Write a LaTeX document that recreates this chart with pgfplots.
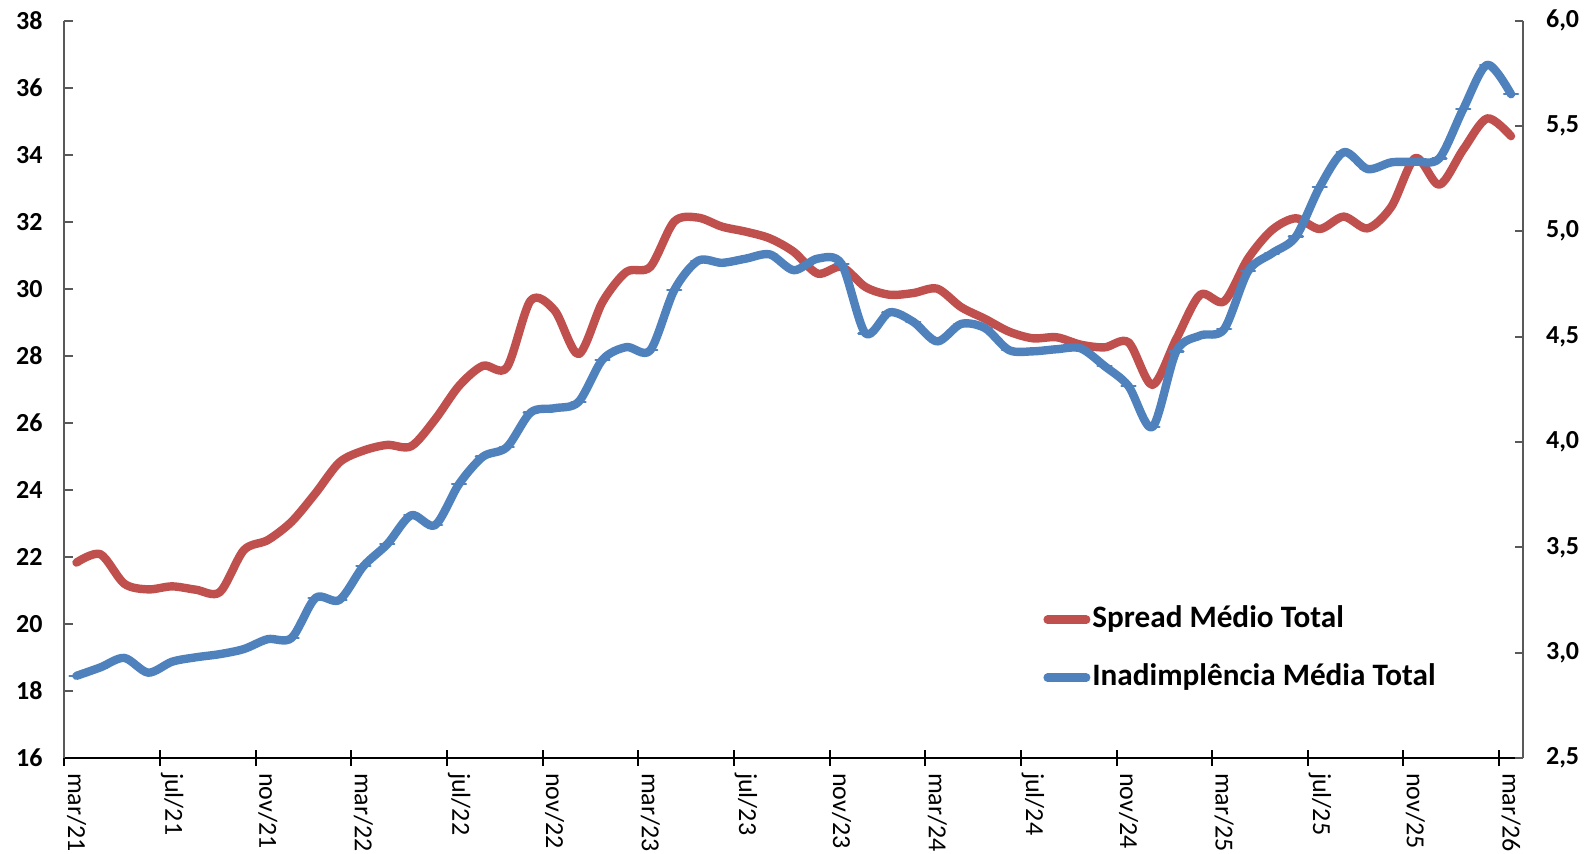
\documentclass[border=0pt]{standalone}
\usepackage{fontspec}
\setmainfont{Carlito}
\usepackage{pgfplots}
\pgfplotsset{compat=1.18}
\usepackage{pgfplotstable}

\definecolor{spreadred}{HTML}{C0504D}
\definecolor{inadblue}{HTML}{4F81BD}

% i = months since mar/21; spread on left axis, inad on right axis
\pgfplotstableread{
i  spread inad
0  21.83  2.890
1  22.08  2.930
2  21.20  2.975
3  21.03  2.905
4  21.12  2.957
5  21.02  2.978
6  20.95  2.993
7  22.20  3.017
8  22.50  3.064
9  23.05  3.070
10 23.90  3.260
11 24.82  3.250
12 25.17  3.410
13 25.34  3.515
14 25.30  3.652
15 26.10  3.605
16 27.10  3.800
17 27.70  3.930
18 27.65  3.975
19 29.65  4.140
20 29.35  4.160
21 28.05  4.190
22 29.60  4.390
23 30.50  4.450
24 30.65  4.435
25 32.00  4.720
26 32.12  4.860
27 31.85  4.850
28 31.70  4.870
29 31.50  4.890
30 31.10  4.815
31 30.45  4.870
32 30.65  4.845
33 30.05  4.515
34 29.82  4.615
35 29.87  4.570
36 30.00  4.477
37 29.45  4.560
38 29.10  4.540
39 28.72  4.436
40 28.52  4.430
41 28.55  4.440
42 28.33  4.444
43 28.25  4.360
44 28.40  4.265
45 27.13  4.070
46 28.50  4.430
47 29.82  4.505
48 29.62  4.535
49 30.90  4.810
50 31.75  4.895
51 32.10  4.974
52 31.78  5.210
53 32.15  5.375
54 31.80  5.295
55 32.45  5.327
56 33.90  5.330
57 33.10  5.346
58 34.15  5.580
59 35.08  5.790
60 34.55  5.650
}\data

\pgfplotsset{
  base/.style={
    width=729.25pt, height=368.75pt, scale only axis,
    xmin=-0.5, xmax=60.5,
    xtick={-0.5,3.5,...,59.5},
    xticklabels={mar/21,jul/21,nov/21,mar/22,jul/22,nov/22,mar/23,jul/23,nov/23,mar/24,jul/24,nov/24,mar/25,jul/25,nov/25,mar/26},
    x tick label style={font=\fontsize{13}{15}\selectfont, xshift=6pt, yshift=-4pt, rotate=-90, anchor=west},
    x tick style={black, line width=1pt},
    x axis line style={black, line width=1pt},
    y axis line style={black!65, line width=1pt},
    y tick style={black!65, line width=1pt},
    tick align=inside,
    major tick length=4pt,
    /pgf/number format/assume math mode=true,
  },
  wide/.style={line width=4.2pt, smooth, line join=round, line cap=round},
}

\begin{document}
\begin{tikzpicture}
\path[use as bounding box] (-32.25pt,-47.5pt) rectangle (759.75pt,379pt);

\begin{axis}[base,
    axis y line*=left, axis x line*=bottom,
    ymin=16, ymax=38, ytick={16,18,...,38},
    y tick label style={font=\bfseries\fontsize{13}{15}\selectfont, xshift=-7.5pt},
    % same positions again, drawn outward, so the x ticks cross the axis
    extra x ticks={-0.5,3.5,...,59.5},
    extra x tick labels={},
    extra x tick style={tick align=outside},
  ]
  \addplot[spreadred, wide] table[x=i, y=spread] {\data};
\end{axis}

\begin{axis}[base,
    axis y line*=right, axis x line=none,
    ymin=2.5, ymax=6, ytick={2.5,3,...,6},
    yticklabels={{2,5},{3,0},{3,5},{4,0},{4,5},{5,0},{5,5},{6,0}},
    y tick label style={font=\bfseries\fontsize{13}{15}\selectfont, xshift=8pt},
    legend style={draw=none, fill=none, at={(0.6709,0.2125)}, anchor=north west,
      inner sep=0pt, column sep=0pt, row sep=11pt,
      font=\bfseries\fontsize{15.6}{18}\selectfont,
      nodes={inner sep=1pt, text height=12pt, text depth=4pt}},
    legend cell align=left,
    legend image code/.code={\draw[#1, line width=4.2pt, line cap=round] (2.1pt,0pt) -- (21.4pt,0pt);},
  ]
  \addlegendimage{spreadred}
  \addlegendentry{Spread Médio Total}
  \addplot[inadblue, wide, mark=-, mark size=3.5pt, mark options={solid, line width=1.2pt}] table[x=i, y=inad] {\data};
  \addlegendentry{Inadimplência Média Total}
\end{axis}
\end{tikzpicture}
\end{document}
